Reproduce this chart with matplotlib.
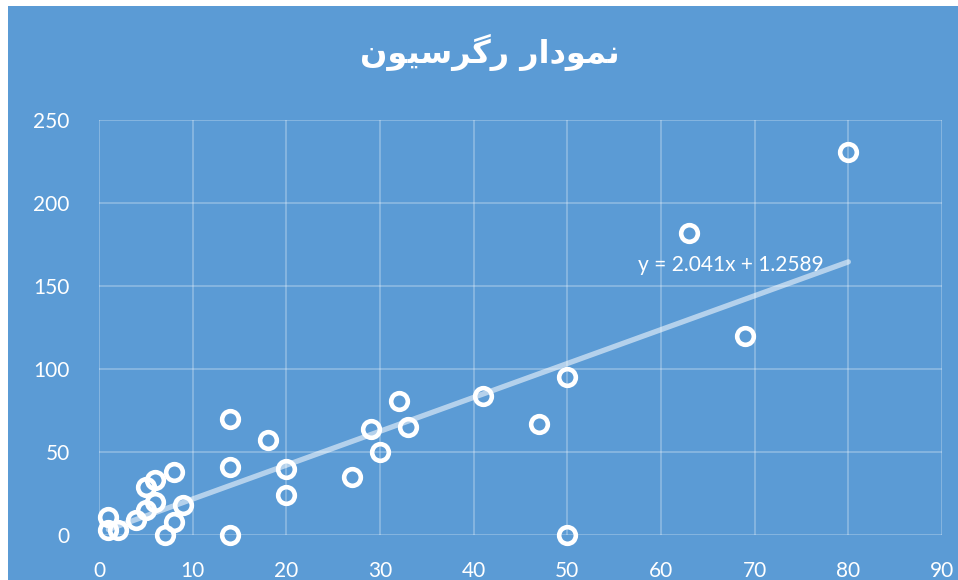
import matplotlib
matplotlib.use("Agg")
import matplotlib.pyplot as plt
from matplotlib.patches import Rectangle

# data
x_vals = [80, 63, 69, 50, 50, 47, 41, 32, 33, 29, 30, 27, 20, 20, 18,
          14, 14, 14, 9, 8, 8, 7, 6, 5, 6, 5, 4, 1, 1, 2]
y_vals = [231, 182, 120, 95, 0, 67, 84, 81, 65, 64, 50, 35, 40, 24, 57,
          70, 41, 0, 18, 38, 8, 0, 33, 29, 20, 15, 9, 11, 3, 3]
slope = 2.041
intercept = 1.2589
x_ticks = [0, 10, 20, 30, 40, 50, 60, 70, 80, 90]
y_ticks = [0, 50, 100, 150, 200, 250]

# "نمودار رگرسیون" in shaped presentation forms, visual order (LTR)
title = "\uFEE5\uFEEE\uFBFF\uFEB3\uFEAE\uFB94\uFEAD \uFEAD\uFE8D\uFEA9\uFEEE\uFEE4\uFEE7"

blue = "#5B9BD5"
W, H = 958, 580

fig = plt.figure(figsize=(W / 100, H / 100), dpi=100, facecolor="white")
fig.patches.append(Rectangle((8 / W, 0), 1 - 8 / W, 1 - 6 / H,
                             transform=fig.transFigure, facecolor=blue,
                             edgecolor="none", zorder=-10))

ax = fig.add_axes([99 / W, 1 - 535 / H, (942 - 99) / W, (535 - 120) / H])
ax.set_facecolor("none")
for s in ax.spines.values():
    s.set_visible(False)

ax.set_xlim(0, 90)
ax.set_ylim(0, 250)
ax.set_xticks(x_ticks)
ax.set_yticks(y_ticks)
ax.grid(True, color="white", alpha=0.3, linewidth=1.2)
ax.set_axisbelow(True)
ax.tick_params(length=0, colors="white", labelsize=15)
for lab in ax.get_xticklabels() + ax.get_yticklabels():
    lab.set_family("Lato")
ax.tick_params(axis="x", pad=19)
ax.tick_params(axis="y", pad=21)

# trendline
xl = [min(x_vals), max(x_vals)]
yl = [slope * v + intercept for v in xl]
ax.plot(xl, yl, color="white", alpha=0.55, linewidth=3.8,
        solid_capstyle="round", zorder=2)

ax.plot(x_vals, y_vals, linestyle="none", marker="o", markersize=12,
        markerfacecolor="none", markeredgecolor="white",
        markeredgewidth=3.3, zorder=3, clip_on=False)

ax.text(67.4, 162.5, "y = 2.041x + 1.2589", color="white", fontsize=15,
        family="Lato", ha="center", va="center")

fig.text(490 / W, 1 - 52 / H, title, color="white", fontsize=23,
         fontweight="bold", family=["DejaVu Sans"], ha="center", va="center")

fig.savefig("out.png", dpi=100, facecolor="white")
